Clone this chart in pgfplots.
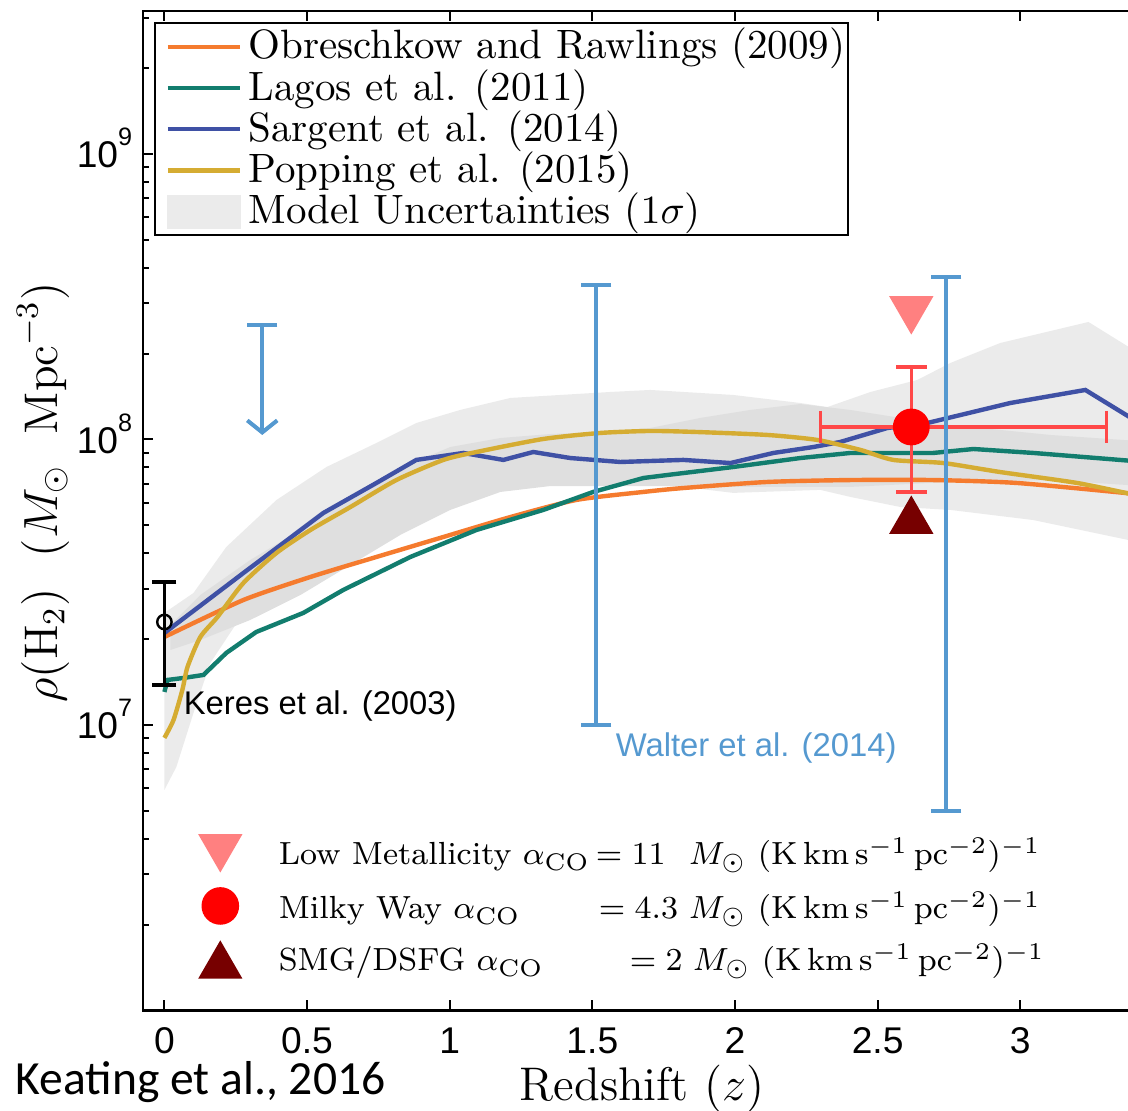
\documentclass[border=0pt]{standalone}
\usepackage{fontspec}
\usepackage{pgfplots}
\pgfplotsset{compat=1.18}
\usetikzlibrary{arrows.meta}
\newfontfamily\arialf{Liberation Sans}
\newfontfamily\calibrif{Carlito}
\definecolor{cOr}{HTML}{F57B2E}
\definecolor{cTe}{HTML}{127D6E}
\definecolor{cBl}{HTML}{3F51A5}
\definecolor{cYe}{HTML}{D5AC32}
\definecolor{bandgray}{HTML}{EBEBEB}
\definecolor{innergray}{HTML}{DFDFDF}
\definecolor{wblue}{HTML}{5599D0}
\definecolor{mwred}{HTML}{FF0000}
\definecolor{ebred}{HTML}{FF4848}
\definecolor{lmpink}{HTML}{FF8080}
\definecolor{smgred}{HTML}{770000}
\newcommand{\tsup}[1]{\raisebox{5.5pt}{\fontsize{6.3}{6.3}\selectfont #1}}
\begin{document}
\begin{tikzpicture}
\begin{axis}[
  at={(0,0)}, anchor=south west, scale only axis,
  width=247.85pt, height=249.8pt,
  xmin=-0.075, xmax=3.4,
  ymode=log, ymin=1e6, ymax=3.1623e9,
  axis line style={line width=0.6pt},
  every tick/.style={black, line width=0.5pt},
  major tick length=2.5pt, minor tick length=1.5pt,
  tick align=inside,
  ytick pos=left,
  xtick={0,0.5,1,1.5,2,2.5,3},
  xticklabels={0,0.5,1,1.5,2,2.5,3},
  ytick={1e6,1e7,1e8,1e9},
  yticklabels={,10\tsup{7},10\tsup{8},10\tsup{9}},
  minor ytick={2e6,3e6,4e6,5e6,6e6,7e6,8e6,9e6,2e7,3e7,4e7,5e7,6e7,7e7,8e7,9e7,2e8,3e8,4e8,5e8,6e8,7e8,8e8,9e8,2e9,3e9},
  xticklabel style={font=\arialf\fontsize{9.3}{9.3}\selectfont, anchor=base, inner sep=0pt, yshift=-10.7pt},
  yticklabel style={font=\arialf\fontsize{9.3}{9.3}\selectfont, anchor=base east, inner sep=0pt, xshift=-2.5pt, yshift=-3.5pt},
  legend image code/.code={\path (0pt,0pt) (21.6pt,0pt); \draw[#1, line width=1.1pt] (2.0pt,0pt) -- (20.0pt,0pt);},
  legend cell align=left,
  legend style={at={(axis description cs:0.0106,0.9892)}, anchor=north west,
    draw=black, line width=0.5pt, fill=white, inner xsep=0.8pt, inner ysep=0.8pt,
    column sep=0pt, row sep=0pt,
    font=\fontsize{10.25}{10.25}\selectfont,
    nodes={inner sep=0pt, text height=8.15pt, text depth=2.15pt}},
]
% model uncertainty band
\addplot[forget plot, fill=bandgray, draw=none] coordinates {
(0,2.469e7) (0.102,2.90e7) (0.217,4.203e7) (0.393,6.14e7) (0.568,8.01e7) (0.743,9.72e7) (0.883,1.142e8) (1.037,1.269e8) (1.213,1.398e8) (1.388,1.432e8) (1.563,1.467e8) (1.703,1.491e8) (1.994,1.432e8) (2.229,1.342e8) (2.324,1.299e8) (2.475,1.467e8) (2.639,1.616e8) (2.755,1.854e8) (2.930,2.178e8) (3.239,2.58e8) (3.4,2.05e8)
(3.4,4.4e7) (3.046,5.22e7) (2.755,5.665e7) (2.580,5.80e7) (2.405,6.29e7) (2.299,6.66e7) (1.994,6.50e7) (1.819,6.82e7) (1.563,7.04e7) (1.328,7.04e7) (1.094,6.50e7) (0.862,5.527e7) (0.627,4.34e7) (0.452,3.49e7) (0.277,2.469e7) (0.161,1.649e7) (0.102,1.102e7) (0.042,7.13e6) (0,5.92e6)
} -- cycle;
\addplot[forget plot, fill=innergray, draw=none] coordinates {
(0.021,2.24e7) (0.126,2.853e7) (0.301,3.784e7) (0.477,4.82e7) (0.652,6.29e7) (0.827,7.95e7) (1.002,9.41e7) (1.178,1.012e8) (1.353,1.045e8) (1.528,1.062e8) (1.703,1.097e8) (1.879,1.19e8) (2.054,1.269e8) (2.229,1.331e8) (2.404,1.269e8) (2.580,1.19e8) (2.755,1.124e8) (2.930,1.08e8) (3.106,1.037e8) (3.4,9.9e7)
(3.4,6.9e7) (3.106,7.21e7) (2.755,7.10e7) (2.404,6.82e7) (2.054,6.82e7) (1.703,6.87e7) (1.353,6.87e7) (1.178,6.55e7) (1.002,5.665e7) (0.827,4.63e7) (0.652,3.635e7) (0.477,2.853e7) (0.301,2.332e7) (0.126,1.985e7) (0.021,1.831e7)
} -- cycle;
% models
\addplot[cOr, line width=1.1pt, smooth, tension=0.4] coordinates {
(0,2.033e7) (0.277,2.74e7) (0.512,3.30e7) (0.743,3.877e7) (0.978,4.555e7) (1.213,5.35e7) (1.444,6.14e7) (1.679,6.55e7) (1.819,6.76e7) (2.114,7.10e7) (2.405,7.21e7) (2.695,7.21e7) (2.99,7.04e7) (3.4,6.45e7)};
\addplot[cTe, line width=1.1pt] coordinates {
(0,1.305e7) (0.011,1.438e7) (0.067,1.461e7) (0.137,1.497e7) (0.217,1.788e7) (0.322,2.117e7) (0.487,2.469e7) (0.627,2.971e7) (0.862,3.877e7) (1.094,4.82e7) (1.328,5.665e7) (1.503,6.55e7) (1.679,7.33e7) (1.763,7.51e7) (1.994,8.01e7) (2.229,8.61e7) (2.405,8.97e7) (2.695,8.97e7) (2.836,9.26e7) (3.046,8.97e7) (3.4,8.4e7)};
\addplot[cBl, line width=1.1pt] coordinates {
(0,2.10e7) (0.277,3.407e7) (0.557,5.527e7) (0.743,7.04e7) (0.883,8.48e7) (1.048,8.97e7) (1.188,8.48e7) (1.293,9.04e7) (1.423,8.61e7) (1.598,8.34e7) (1.819,8.48e7) (1.984,8.27e7) (2.135,8.97e7) (2.275,9.41e7) (2.369,9.80e7) (2.534,1.097e8) (2.674,1.142e8) (2.965,1.342e8) (3.228,1.491e8) (3.4,1.17e8)};
\addplot[cYe, line width=1.1pt, smooth, tension=0.4] coordinates {
(0,9.01e6) (0.032,1.041e7) (0.063,1.327e7) (0.081,1.597e7) (0.126,2.033e7) (0.186,2.389e7) (0.277,3.144e7) (0.393,4.005e7) (0.512,4.82e7) (0.652,5.80e7) (0.813,7.21e7) (0.978,8.48e7) (1.094,9.04e7) (1.328,1.004e8) (1.528,1.054e8) (1.703,1.071e8) (1.868,1.062e8) (2.114,1.037e8) (2.289,9.96e7) (2.44,9.19e7) (2.555,8.48e7) (2.73,8.27e7) (2.93,7.69e7) (3.2,7.04e7) (3.4,6.4e7)};
\addlegendimage{legend image code/.code={\path (0pt,0pt) (21.6pt,0pt); \fill[bandgray] (2.0pt,-4pt) rectangle (20.0pt,4pt);}}
\legend{Obreschkow and Rawlings (2009), Lagos et al. (2011), Sargent et al. (2014), Popping et al. (2015), Model Uncertainties ($1\sigma$)}
% Keres et al. (2003)
\addplot[forget plot, black, line width=0.8pt] coordinates {(0,1.381e7) (0,3.17e7)};
\addplot[forget plot, only marks, mark=-, mark size=3pt, mark options={black, line width=0.8pt}] coordinates {(0,1.381e7) (0,3.17e7)};
\addplot[forget plot, only marks, mark=o, mark size=1.8pt, mark options={fill=white, draw=black, line width=0.6pt}] coordinates {(0,2.295e7)};
% red measurements
\addplot[forget plot, only marks, mark=triangle*, mark size=6pt, mark options={rotate=180, fill=lmpink, draw=lmpink}] coordinates {(2.618,2.865e8)};
\addplot[forget plot, only marks, mark=triangle*, mark size=6pt, mark options={fill=smgred, draw=smgred}] coordinates {(2.618,5.18e7)};
\addplot[forget plot, ebred, line width=0.8pt] coordinates {(2.618,6.55e7) (2.618,1.795e8)};
\addplot[forget plot, ebred, line width=0.8pt] coordinates {(2.299,1.106e8) (3.302,1.106e8)};
\addplot[forget plot, only marks, mark=-, mark size=3.9pt, mark options={ebred, line width=0.8pt}] coordinates {(2.618,6.55e7) (2.618,1.795e8)};
\addplot[forget plot, only marks, mark=|, mark size=4pt, mark options={ebred, line width=0.8pt}] coordinates {(2.299,1.106e8) (3.302,1.106e8)};
\addplot[forget plot, only marks, mark=*, mark size=4.4pt, mark options={fill=mwred, draw=mwred}] coordinates {(2.618,1.106e8)};
% Walter et al. (2014)
\addplot[forget plot, wblue, line width=1pt, -{Straight Barb[length=3pt, width=7.5pt, line width=1pt]}] coordinates {(0.343,2.52e8) (0.343,1.037e8)};
\addplot[forget plot, only marks, mark=-, mark size=3.75pt, mark options={wblue, line width=1pt}] coordinates {(0.343,2.52e8)};
\addplot[forget plot, wblue, line width=1pt] coordinates {(1.514,1.0e7) (1.514,3.476e8)};
\addplot[forget plot, only marks, mark=-, mark size=3.75pt, mark options={wblue, line width=1pt}] coordinates {(1.514,1.0e7) (1.514,3.476e8)};
\addplot[forget plot, wblue, line width=1pt] coordinates {(2.741,5.0e6) (2.741,3.709e8)};
\addplot[forget plot, only marks, mark=-, mark size=3.75pt, mark options={wblue, line width=1pt}] coordinates {(2.741,5.0e6) (2.741,3.709e8)};
% marker key
\addplot[forget plot, only marks, mark=triangle*, mark size=6pt, mark options={rotate=180, fill=lmpink, draw=lmpink}] coordinates {(0.196,3.74e6)};
\addplot[forget plot, only marks, mark=*, mark size=4.5pt, mark options={fill=mwred, draw=mwred}] coordinates {(0.196,2.323e6)};
\addplot[forget plot, only marks, mark=triangle*, mark size=6pt, mark options={fill=smgred, draw=smgred}] coordinates {(0.196,1.432e6)};
\end{axis}
% annotations
\node[anchor=base west, inner sep=0pt, font=\arialf\fontsize{8.2}{8.2}\selectfont] at (10pt,73.9pt) {Keres et al. (2003)};
\node[anchor=base west, inner sep=0pt, font=\arialf\fontsize{8.2}{8.2}\selectfont, text=wblue] at (118pt,63.4pt) {Walter et al. (2014)};
\begin{scope}[every node/.style={anchor=base west, inner sep=0pt, font=\fontsize{8}{8}\selectfont}]
\node at (33.75pt,36.4pt) {Low Metallicity $\alpha_{\mathrm{CO}}$};
\node at (113pt,36.4pt) {$=11$};
\node at (136.25pt,36.4pt) {$M_\odot\ (\mathrm{K\,km\,s^{-1}\,pc^{-2}})^{-1}$};
\node at (33.75pt,22.9pt) {Milky Way $\alpha_{\mathrm{CO}}$};
\node at (113.75pt,22.9pt) {$=4.3$};
\node at (136.25pt,22.9pt) {$M_\odot\ (\mathrm{K\,km\,s^{-1}\,pc^{-2}})^{-1}$};
\node at (33.75pt,9.9pt) {SMG/DSFG $\alpha_{\mathrm{CO}}$};
\node at (121.5pt,9.9pt) {$=2$};
\node at (137.25pt,9.9pt) {$M_\odot\ (\mathrm{K\,km\,s^{-1}\,pc^{-2}})^{-1}$};
\end{scope}
\node[anchor=base, inner sep=0pt, font=\fontsize{11.8}{11.8}\selectfont] at (124.75pt,-22.6pt) {Redshift ($z$)};
\node[rotate=90, anchor=center, inner sep=0pt, font=\fontsize{11.8}{11.8}\selectfont] at (-25pt,129.6pt) {$\rho(\mathrm{H}_2)\ \ (M_\odot\ \ \mathrm{Mpc}^{-3})$};
\node[anchor=base west, inner sep=0pt, font=\calibrif\fontsize{11.9}{11.9}\selectfont] at (-32pt,-20.9pt) {Keating et al., 2016};
\pgfresetboundingbox
\useasboundingbox (-35.75pt,-25.125pt) rectangle (246.25pt,252.625pt);
\end{tikzpicture}
\end{document}
